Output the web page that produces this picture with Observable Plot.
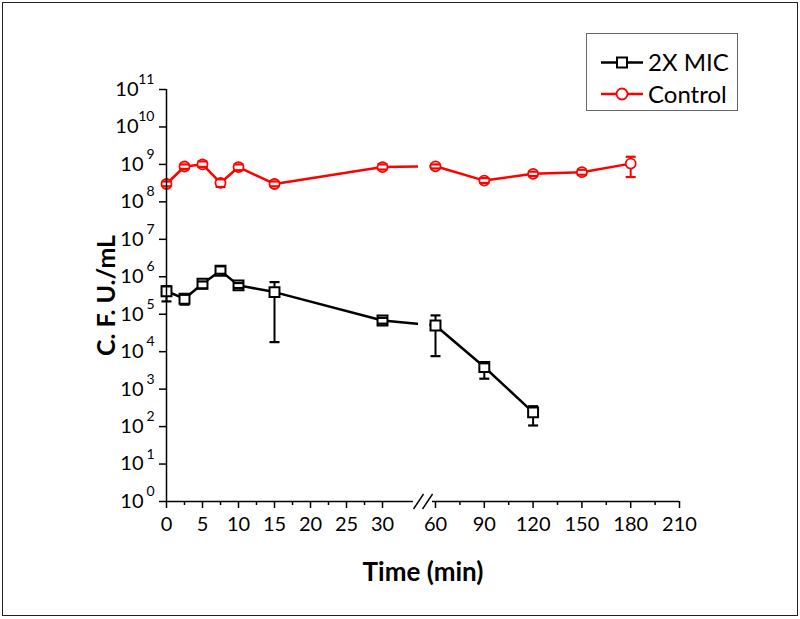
<!DOCTYPE html>
<html>
<head>
<meta charset="utf-8">
<script src="https://cdn.jsdelivr.net/npm/d3@7"></script>
<script src="https://cdn.jsdelivr.net/npm/@observablehq/plot@0.6"></script>
<style>
  html, body { margin: 0; padding: 0; background: #fff; }
  #wrap { position: relative; width: 800px; height: 619px; font-family: Lato, "Open Sans", sans-serif; }
  #frame { position: absolute; left: 2px; top: 2px; width: 794px; height: 612px; border: 1px solid #222; pointer-events: none; }
  #legend { position: absolute; left: 586px; top: 33px; width: 150px; height: 76px; border: 1px solid #666; background: #fff; }
  #legend svg { position: absolute; left: 0; top: 0; }
</style>
</head>
<body>
<div id="wrap">
  <div id="chart"></div>
  <div id="frame"></div>
  <div id="legend"></div>
</div>
<script>
// ---- Data ----
const micTime = [0, 2.5, 5, 7.5, 10, 15, 30, 60, 90, 120];
const micCFU  = [4.1e5, 2.6e5, 6.5e5, 1.45e6, 5.9e5, 3.9e5, 6.8e4, 5.0e4, 3.9e3, 2.4e2];
const micLow  = [2.2e5, 1.8e5, 4.9e5, 1.2e6, 5.0e5, 1.8e4, 5.6e4, 7.6e3, 1.9e3, 1.07e2];
const micHigh = [5.6e5, 3.3e5, 7.5e5, 1.9e6, 6.8e5, 7.2e5, 8.0e4, 9.3e4, 4.9e3, 3.5e2];

const ctrlTime = [0, 2.5, 5, 7.5, 10, 15, 30, 60, 90, 120, 150, 180];
const ctrlCFU  = [3.0e8, 8.8e8, 1.0e9, 3.2e8, 8.5e8, 3.0e8, 8.5e8, 8.9e8, 3.7e8, 5.6e8, 6.2e8, 1.05e9];
const ctrlLow  = [2.6e8, 7.6e8, 8.6e8, 2.5e8, 7.0e8, 2.6e8, 7.3e8, 7.8e8, 3.2e8, 4.9e8, 5.3e8, 4.6e8];
const ctrlHigh = [3.5e8, 1.0e9, 1.2e9, 4.0e8, 1.0e9, 3.5e8, 1.0e9, 1.0e9, 4.3e8, 6.4e8, 7.2e8, 1.6e9];

const xMajorTicks = [0, 5, 10, 15, 20, 25, 30, 60, 90, 120, 150, 180, 210];
const xMinorTicks = [2.5, 7.5, 12.5, 17.5, 22.5, 27.5, 75, 105, 135, 165, 195];
const yExponents = [0, 1, 2, 3, 4, 5, 6, 7, 8, 9, 10, 11];

const seriesNames = ["2X MIC", "Control"];
const seriesColors = ["#000000", "#ff0000"];

// ---- Build tables ----
const mic = micTime.map((t, i) => ({t, v: micCFU[i], lo: micLow[i], hi: micHigh[i]}));
const ctrl = ctrlTime.map((t, i) => ({t, v: ctrlCFU[i], lo: ctrlLow[i], hi: ctrlHigh[i]}));

// custom symbols
const capSymbol = {draw(ctx) { ctx.moveTo(-5, 0); ctx.lineTo(5, 0); }};
const slashSymbol = {draw(ctx) { ctx.moveTo(-5, 7.5); ctx.lineTo(5, -7.5); }};

// axis break (in time units along the broken axis)
const gapLineStart = 50.4, gapLineEnd = 56.8;
const axisLeftEnd = 47.5, axisRightStart = 58.3;
const slashAt = [50.4, 55.5];

const font = "Lato, 'Open Sans', sans-serif";

const chart = Plot.plot({
  width: 800,
  height: 619,
  marginLeft: 166,
  marginRight: 121,
  marginTop: 89,
  marginBottom: 118,
  style: {fontFamily: font, background: "transparent"},
  x: {type: "linear", domain: [0, 30, 60, 210], range: [166, 382, 435, 679], label: null},
  y: {type: "log", domain: [1, 1e11], label: null},
  marks: [
    // lines
    Plot.line(ctrl, {x: "t", y: "v", stroke: seriesColors[1], strokeWidth: 2.5}),
    Plot.line(mic, {x: "t", y: "v", stroke: seriesColors[0], strokeWidth: 2.5}),
    // break gap in lines
    Plot.rect([0], {x1: gapLineStart, x2: gapLineEnd, y1: 1.3, y2: 1e11, fill: "white"}),
    // error bars
    Plot.ruleX(ctrl, {x: "t", y1: "lo", y2: "hi", stroke: seriesColors[1], strokeWidth: 2}),
    Plot.ruleX(mic, {x: "t", y1: "lo", y2: "hi", stroke: seriesColors[0], strokeWidth: 2}),
    // markers
    Plot.dot(ctrl, {x: "t", y: "v", r: 5, symbol: "circle", fill: "white", stroke: seriesColors[1], strokeWidth: 1.8}),
    Plot.dot(mic, {x: "t", y: "v", r: 5.6, symbol: "square", fill: "white", stroke: seriesColors[0], strokeWidth: 2}),
    // caps
    Plot.dot(ctrl, {x: "t", y: "lo", symbol: capSymbol, stroke: seriesColors[1], strokeWidth: 2.2}),
    Plot.dot(ctrl, {x: "t", y: "hi", symbol: capSymbol, stroke: seriesColors[1], strokeWidth: 2.2}),
    Plot.dot(mic, {x: "t", y: "lo", symbol: capSymbol, stroke: seriesColors[0], strokeWidth: 2.2}),
    Plot.dot(mic, {x: "t", y: "hi", symbol: capSymbol, stroke: seriesColors[0], strokeWidth: 2.2}),
    // axis lines
    Plot.ruleX([0], {stroke: "#000", strokeWidth: 1.5}),
    Plot.ruleY([1], {x1: 0, x2: axisLeftEnd, stroke: "#000", strokeWidth: 1.5}),
    Plot.ruleY([1], {x1: axisRightStart, x2: 210, stroke: "#000", strokeWidth: 1.5}),
    Plot.dot(slashAt, {x: d => d, y: () => 1, symbol: slashSymbol, stroke: "#000", strokeWidth: 1.4}),
    // x axis ticks
    Plot.axisX(xMajorTicks, {anchor: "bottom", tickSize: 7, tickPadding: 8, fontSize: 20, label: null, stroke: "#000", strokeWidth: 1.5, fill: "#000", tickFormat: d => String(d)}),
    Plot.axisX(xMinorTicks, {anchor: "bottom", tickSize: 4, label: null, stroke: "#000", strokeWidth: 1.5, tickFormat: () => ""}),
    // y axis ticks
    Plot.axisY(yExponents.map(e => 10 ** e), {anchor: "left", tickSize: 7, label: null, stroke: "#000", strokeWidth: 1.5, tickFormat: () => ""}),
    Plot.text(yExponents.filter(e => e < 10), {y: e => 10 ** e, text: () => "10", frameAnchor: "left", dx: -23, textAnchor: "end", fontSize: 20, fill: "#000"}),
    Plot.text(yExponents.filter(e => e >= 10), {y: e => 10 ** e, text: () => "10", frameAnchor: "left", dx: -28, textAnchor: "end", fontSize: 20, fill: "#000"}),
    Plot.text(yExponents, {y: e => 10 ** e, text: e => String(e), frameAnchor: "left", dx: -12, dy: -10, textAnchor: "end", fontSize: 14, fill: "#000"}),
    // axis titles
    Plot.text(["C. F. U./mL"], {text: d => d, frameAnchor: "left", dx: -60, rotate: -90, textAnchor: "middle", lineAnchor: "middle", fontSize: 25, fontWeight: "bold", fill: "#000"}),
    Plot.text(["Time (min)"], {text: d => d, frameAnchor: "bottom", dy: 71, textAnchor: "middle", lineAnchor: "middle", fontSize: 26, fontWeight: "bold", fill: "#000"})
  ]
});
document.getElementById("chart").appendChild(chart);

// ---- Legend ----
const lsvg = d3.select("#legend").append("svg").attr("width", 150).attr("height", 76);
seriesNames.forEach((name, i) => {
  const cy = 28.5 + i * 31.5;
  const g = lsvg.append("g");
  g.append("line").attr("x1", 14).attr("x2", 56).attr("y1", cy).attr("y2", cy)
    .attr("stroke", seriesColors[i]).attr("stroke-width", 2.5);
  if (i === 0) {
    g.append("rect").attr("x", 30).attr("y", cy - 5).attr("width", 10).attr("height", 10)
      .attr("fill", "white").attr("stroke", seriesColors[i]).attr("stroke-width", 2);
  } else {
    g.append("circle").attr("cx", 35).attr("cy", cy).attr("r", 5.5)
      .attr("fill", "white").attr("stroke", seriesColors[i]).attr("stroke-width", 1.8);
  }
  g.append("text").attr("x", 61).attr("y", cy).attr("dy", "0.36em")
    .attr("font-family", font).attr("font-size", 24).attr("fill", "#000").text(name);
});
</script>
</body>
</html>
